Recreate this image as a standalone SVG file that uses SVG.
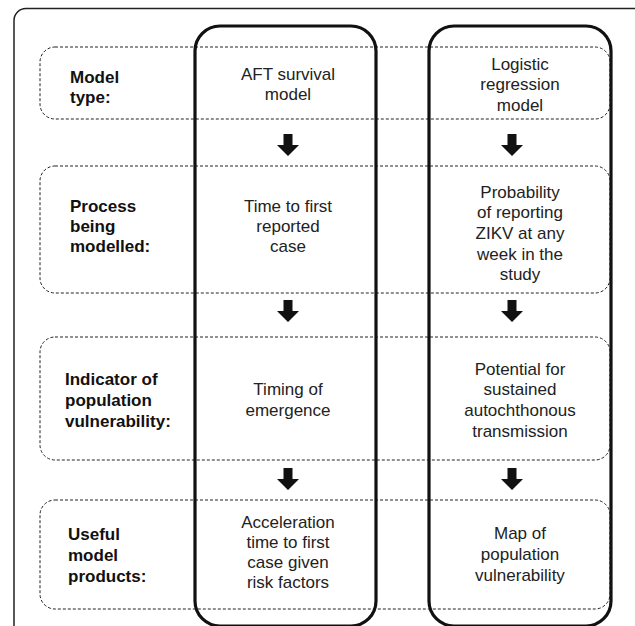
<svg xmlns="http://www.w3.org/2000/svg" width="635" height="626" viewBox="0 0 635 626">
<defs>
<style>
.frame{fill:none;stroke:#222;stroke-width:1.5}
.row{fill:none;stroke:#222;stroke-width:1;stroke-dasharray:3 2}
.col{fill:none;stroke:#111;stroke-width:3.2}
.lbl{font-family:"Liberation Sans",Arial,sans-serif;font-size:17px;font-weight:bold;fill:#111}
.txt{font-family:"Liberation Sans",Arial,sans-serif;font-size:17px;fill:#222;text-anchor:middle}
.arr{fill:#111}
</style>
<path id="arrow" d="M-4.5,0 H4.5 V11 H11 L0,22 L-11,11 H-4.5 Z"/>
</defs>
<rect width="635" height="626" fill="#fff"/>
<rect class="frame" x="14" y="8.5" width="640" height="660" rx="12"/>

<g id="row1">
<rect class="row" x="40" y="47" width="570" height="72" rx="15"/>
<text class="lbl" x="70" y="83">Model</text>
<text class="lbl" x="70" y="103">type:</text>
</g>
<g id="row2">
<rect class="row" x="40" y="166" width="570" height="127" rx="15"/>
<text class="lbl" x="70" y="212">Process</text>
<text class="lbl" x="70" y="232">being</text>
<text class="lbl" x="70" y="252">modelled:</text>
</g>
<g id="row3">
<rect class="row" x="40" y="337" width="570" height="123" rx="15"/>
<text class="lbl" x="65" y="385">Indicator of</text>
<text class="lbl" x="65" y="406">population</text>
<text class="lbl" x="65" y="427">vulnerability:</text>
</g>
<g id="row4">
<rect class="row" x="40" y="500" width="570" height="109" rx="15"/>
<text class="lbl" x="68" y="540">Useful</text>
<text class="lbl" x="68" y="561">model</text>
<text class="lbl" x="68" y="582">products:</text>
</g>

<g id="col-aft">
<rect class="col" x="195" y="26" width="181" height="600" rx="25"/>
<text class="txt" x="288" y="80">AFT survival</text>
<text class="txt" x="288" y="100">model</text>
<text class="txt" x="288" y="212">Time to first</text>
<text class="txt" x="288" y="232">reported</text>
<text class="txt" x="288" y="252">case</text>
<text class="txt" x="288" y="395">Timing of</text>
<text class="txt" x="288" y="416">emergence</text>
<text class="txt" x="288" y="528">Acceleration</text>
<text class="txt" x="288" y="548">time to first</text>
<text class="txt" x="288" y="568">case given</text>
<text class="txt" x="288" y="588">risk factors</text>
</g>
<g id="col-logistic">
<rect class="col" x="429" y="26" width="182" height="600" rx="25"/>
<text class="txt" x="520" y="70">Logistic</text>
<text class="txt" x="520" y="90">regression</text>
<text class="txt" x="520" y="111">model</text>
<text class="txt" x="520" y="198">Probability</text>
<text class="txt" x="520" y="218">of reporting</text>
<text class="txt" x="520" y="239">ZIKV at any</text>
<text class="txt" x="520" y="260">week in the</text>
<text class="txt" x="520" y="280">study</text>
<text class="txt" x="520" y="375">Potential for</text>
<text class="txt" x="520" y="395">sustained</text>
<text class="txt" x="520" y="416">autochthonous</text>
<text class="txt" x="520" y="437">transmission</text>
<text class="txt" x="520" y="539">Map of</text>
<text class="txt" x="520" y="560">population</text>
<text class="txt" x="520" y="581">vulnerability</text>
</g>

<g id="connectors" class="arr">
<use href="#arrow" x="288" y="134"/>
<use href="#arrow" x="288" y="300"/>
<use href="#arrow" x="288" y="468"/>
<use href="#arrow" x="512" y="134"/>
<use href="#arrow" x="512" y="300"/>
<use href="#arrow" x="512" y="468"/>
</g>
</svg>
